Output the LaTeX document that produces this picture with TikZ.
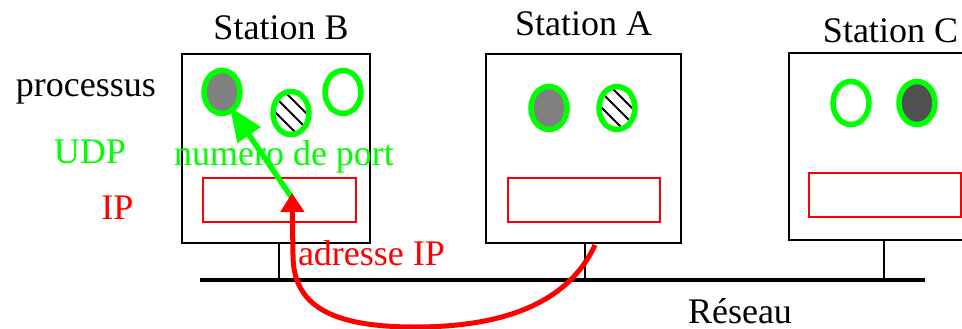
\documentclass[tikz,border=0pt]{standalone}
\usepackage{fontspec}
\setmainfont{LiberationSerif}[Extension=.ttf, UprightFont=*-Regular, BoldFont=*-Bold]
\usetikzlibrary{shapes.geometric,arrows.meta}
\definecolor{pgreen}{RGB}{0,255,0}
\definecolor{pred}{RGB}{255,0,0}
\definecolor{pgray}{RGB}{128,128,128}
\definecolor{pdark}{RGB}{80,80,80}
\tikzset{
  station/.style={draw=black, line width=2.6, fill=white, inner sep=0, outer sep=0},
  iprect/.style={draw=pred, line width=2.2, inner sep=0, outer sep=0, minimum width=151, minimum height=44},
  proc/.style={ellipse, draw=pgreen, line width=5.5, inner sep=0, outer sep=0, minimum width=36, minimum height=43},
  hatched/.style={proc, fill=white, path picture={
      \foreach \o in {-15,0,15}
        \draw[black, line width=1.8] ([shift={(\o-30,-30)}]path picture bounding box.center) -- ([shift={(\o+30,30)}]path picture bounding box.center);}},
  lbl/.style={inner sep=0, outer sep=0},
  wire/.style={draw=black, line width=2},
  net/.style={draw=black, line width=4.5},
  greenarrow/.style={draw=pgreen, line width=5.5, -{Triangle[length=34,width=27]}},
  redarrow/.style={draw=pred, line width=5, -{Triangle[length=19,width=23]}},
}
\begin{document}
\begin{tikzpicture}[x=1pt, y=-1pt, font=\rmfamily\fontsize{36}{40}\selectfont]
\useasboundingbox (0,0) rectangle (962,329);

% network
\coordinate (n1) at (200,280);
\coordinate (n2) at (925,280);

% stations
\node[station, minimum width=188, minimum height=189] (B) at (276,148.5) {};
\node[station, minimum width=195, minimum height=189] (A) at (583.5,148.5) {};
\node[station, minimum width=200, minimum height=187] (C) at (889,146.5) {};

% stubs and network
\draw[wire] ([xshift=3]B.south) -- ([xshift=3]B.south |- n1);
\draw[wire] ([xshift=1.5]A.south) -- ([xshift=1.5]A.south |- n1);
\draw[wire] ([xshift=-5]C.south) -- ([xshift=-5]C.south |- n1);
\draw[net] (n1) -- (n2);

% IP rectangles
\node[iprect, minimum width=153] (ipB) at (279.5,200) {};
\node[iprect, minimum width=152] (ipA) at (584,200) {};
\node[iprect, minimum width=152] (ipC) at (885,195) {};

% processes
\node[proc, fill=pgray] (B1) at (222,92) {};
\node[hatched] (B2) at (291,113) {};
\node[proc, fill=white] (B3) at (343,92) {};
\node[proc, fill=pgray] (A1) at (549,108) {};
\node[hatched] (A2) at (617,108) {};
\node[proc, fill=white] (C1) at (851,103) {};
\node[proc, fill=pdark] (C2) at (917,103) {};

% labels
\node[lbl, anchor=base] (tB) at (281,40) {Station B};
\node[lbl, anchor=base] (tA) at (583.5,36) {Station A};
\node[lbl, anchor=base east] (tC) at (958,43) {Station C};
\node[lbl, anchor=base west] (tproc) at (16,96) {processus};
\node[lbl, anchor=base, text=pgreen] (tudp) at (90,163) {UDP};
\node[lbl, anchor=base, text=pred] (tip) at (117.5,219) {IP};
\node[lbl, anchor=base, text=pgreen] (tport) at (284,165) {numero de port};
\node[lbl, anchor=base west, text=pred] (taddr) at (298,265) {adresse IP};
\node[lbl, anchor=base] (tnet) at (740,323) {Réseau};

% arrows
\coordinate (gs) at (292,198);
\coordinate (gt) at (230,107);
\draw[greenarrow] (gs) -- (gt);
\coordinate (rs) at (595,245);
\coordinate (rb) at (415,327);
\coordinate (re) at (292,193);
\draw[redarrow] (rs) .. controls (565,310) and (490,327) .. (rb)
  .. controls (330,327) and (293,305) .. (293,255) -- (re);
\end{tikzpicture}
\end{document}
